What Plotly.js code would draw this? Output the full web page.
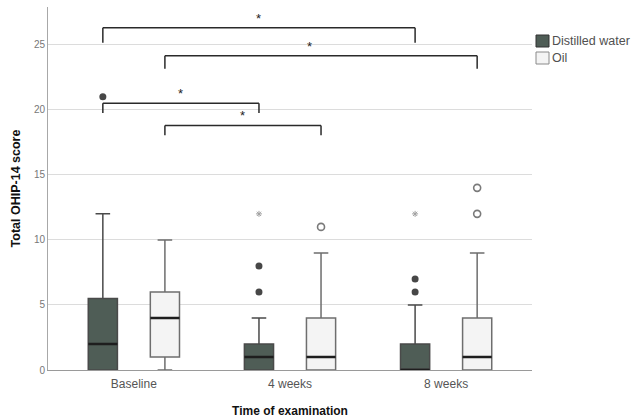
<!DOCTYPE html>
<html>
<head>
<meta charset="utf-8">
<script src="https://cdn.plot.ly/plotly-3.0.1.min.js"></script>
<style>html,body{margin:0;padding:0;background:#fff;}#chart{width:634px;height:420px;}</style>
</head>
<body>
<div id="chart"></div>
<script>
// ---- data ----
const categories = ['Baseline', '4 weeks', '8 weeks'];
const seriesNames = ['Distilled water', 'Oil'];

const dwLower  = [0, 0, 0];
const dwQ1     = [0, 0, 0];
const dwMedian = [2, 1, 0];
const dwQ3     = [5.5, 2, 2];
const dwUpper  = [12, 4, 5];

const oilLower  = [0, 0, 0];
const oilQ1     = [1, 0, 0];
const oilMedian = [4, 1, 1];
const oilQ3     = [6, 4, 4];
const oilUpper  = [10, 9, 9];

const dwOutlierX = ['Baseline', '4 weeks', '4 weeks', '8 weeks', '8 weeks'];
const dwOutlierY = [21, 6, 8, 6, 7];
const dwExtremeX = ['4 weeks', '8 weeks'];
const dwExtremeY = [12, 12];
const oilOutlierX = ['4 weeks', '8 weeks', '8 weeks'];
const oilOutlierY = [11, 12, 14];

// significance comparisons: group, from category index, to category index
const sigGroup = ['dw', 'oil', 'dw', 'oil'];
const sigFrom  = [0, 0, 0, 0];
const sigTo    = [2, 2, 1, 1];
const sigLabel = ['*', '*', '*', '*'];

// ---- layout constants ----
const W = 634, H = 420;
const M = {l: 48, r: 102, t: 7, b: 50};
const PW = W - M.l - M.r, PH = H - M.t - M.b;
const BOXGAP = 0.205;
const GROUPGAP = 0.53;
const OFF = (1 - BOXGAP) / 4;
const groupOffset = {dw: -OFF, oil: OFF};
const sigLevel = [26.3, 24.15, 20.5, 18.8];
const sigDrop  = [1.15, 1.0, 0.75, 0.75];
const sigStarShift = [0, -12, 0, 0];

const FONT = 'Arial, "Liberation Sans", sans-serif';
const DW_FILL = '#4f5d56', DW_LINE = '#4a4a4a', DW_EDGE = '#333333';
const OIL_FILL = '#f4f4f4', OIL_LINE = '#6e6e6e', OIL_EDGE = '#8a8a8a';

function boxTrace(name, group, lower, q1, med, q3, upper, fill, line) {
  return {
    type: 'box', name: name, x: categories,
    lowerfence: lower, q1: q1, median: med, q3: q3, upperfence: upper,
    offsetgroup: group, alignmentgroup: 'all',
    fillcolor: fill, line: {color: line, width: 1.5},
    whiskerwidth: 0.5, boxpoints: false, showlegend: false,
    hoverinfo: 'skip'
  };
}
function medianTrace(group, med) {
  return {
    type: 'box', name: group + ' median', x: categories,
    lowerfence: med, q1: med, median: med, q3: med, upperfence: med,
    offsetgroup: group, alignmentgroup: 'all',
    fillcolor: 'rgba(0,0,0,0)', line: {color: '#1e1e1e', width: 2.6},
    whiskerwidth: 0, boxpoints: false, showlegend: false, hoverinfo: 'skip'
  };
}

const traces = [
  boxTrace(seriesNames[0], 'dw', dwLower, dwQ1, dwMedian, dwQ3, dwUpper, DW_FILL, DW_LINE),
  boxTrace(seriesNames[1], 'oil', oilLower, oilQ1, oilMedian, oilQ3, oilUpper, OIL_FILL, OIL_LINE),
  medianTrace('dw', dwMedian),
  medianTrace('oil', oilMedian),
  {type: 'scatter', mode: 'markers', x: dwOutlierX, y: dwOutlierY,
   offsetgroup: 'dw', alignmentgroup: 'pts', showlegend: false, hoverinfo: 'skip', cliponaxis: false,
   marker: {symbol: 'circle', size: 7, color: '#474747'}},
  {type: 'scatter', mode: 'markers', x: dwExtremeX, y: dwExtremeY,
   offsetgroup: 'dw', alignmentgroup: 'pts', showlegend: false, hoverinfo: 'skip', cliponaxis: false,
   marker: {symbol: 'asterisk-open', size: 5, color: '#a0a0a0', line: {color: '#a0a0a0', width: 1}}},
  {type: 'scatter', mode: 'markers', x: oilOutlierX, y: oilOutlierY,
   offsetgroup: 'oil', alignmentgroup: 'pts', showlegend: false, hoverinfo: 'skip', cliponaxis: false,
   marker: {symbol: 'circle-open', size: 7, color: '#7a7a7a', line: {color: '#7a7a7a', width: 1.6}}}
];

const shapes = [];
const annotations = [];
sigGroup.forEach(function (g, i) {
  const xa = sigFrom[i] + groupOffset[g];
  const xb = sigTo[i] + groupOffset[g];
  const yTop = sigLevel[i], yBot = sigLevel[i] - sigDrop[i];
  const ln = {color: '#2a2a2a', width: 1.5};
  shapes.push({type: 'line', xref: 'x', yref: 'y', x0: xa, x1: xb, y0: yTop, y1: yTop, line: ln});
  shapes.push({type: 'line', xref: 'x', yref: 'y', x0: xa, x1: xa, y0: yTop, y1: yBot, line: ln});
  shapes.push({type: 'line', xref: 'x', yref: 'y', x0: xb, x1: xb, y0: yTop, y1: yBot, line: ln});
  annotations.push({xref: 'x', yref: 'y', x: (xa + xb) / 2, y: yTop, text: sigLabel[i],
    showarrow: false, yanchor: 'bottom', xshift: sigStarShift[i], yshift: 0,
    font: {family: FONT, size: 13, color: '#222'}});
});

// manual legend (SPSS style: swatch directly followed by the label)
const px2x = function (px) { return (px - M.l) / PW; };
const py2y = function (py) { return (H - M.b - py) / PH; };
const legFill = [DW_FILL, OIL_FILL];
const legEdge = [DW_EDGE, OIL_EDGE];
seriesNames.forEach(function (name, i) {
  const top = 35 + i * 17;
  shapes.push({type: 'rect', xref: 'paper', yref: 'paper',
    x0: px2x(536), x1: px2x(549), y0: py2y(top + 12), y1: py2y(top),
    fillcolor: legFill[i], line: {color: legEdge[i], width: 1}});
  annotations.push({xref: 'paper', yref: 'paper', x: px2x(550), y: py2y(top + 6),
    xanchor: 'left', yanchor: 'middle', showarrow: false, text: name,
    font: {family: FONT, size: 12.5, color: '#505050'}});
});

const layout = {
  width: W, height: H,
  margin: M,
  paper_bgcolor: '#fff', plot_bgcolor: '#fff',
  font: {family: FONT, size: 12, color: '#444'},
  boxmode: 'group', boxgap: BOXGAP, boxgroupgap: GROUPGAP,
  scattermode: 'group', scattergap: BOXGAP,
  showlegend: false,
  xaxis: {type: 'category', categoryorder: 'array', categoryarray: categories,
          range: [-0.55, 2.55], showline: true, linecolor: '#9a9a9a', linewidth: 1,
          showgrid: false, zeroline: false, ticks: '', ticklabelstandoff: 3,
          tickfont: {family: FONT, size: 12, color: '#555'},
          title: {text: 'Time of examination', standoff: 16,
                  font: {family: FONT, size: 12, color: '#111', weight: 'bold'}}},
  yaxis: {range: [0, 27.9], tickvals: [0, 5, 10, 15, 20, 25], showline: true,
          linecolor: '#a8a8a8', linewidth: 1, showgrid: true, gridcolor: '#dcdcdc',
          gridwidth: 1, zeroline: false, ticks: '',
          tickfont: {family: FONT, size: 10, color: '#777'},
          title: {text: 'Total OHIP-14 score', standoff: 10,
                  font: {family: FONT, size: 12.5, color: '#111', weight: 'bold'}}},
  shapes: shapes,
  annotations: annotations
};

Plotly.newPlot('chart', traces, layout, {displayModeBar: false, staticPlot: true});
</script>
</body>
</html>
